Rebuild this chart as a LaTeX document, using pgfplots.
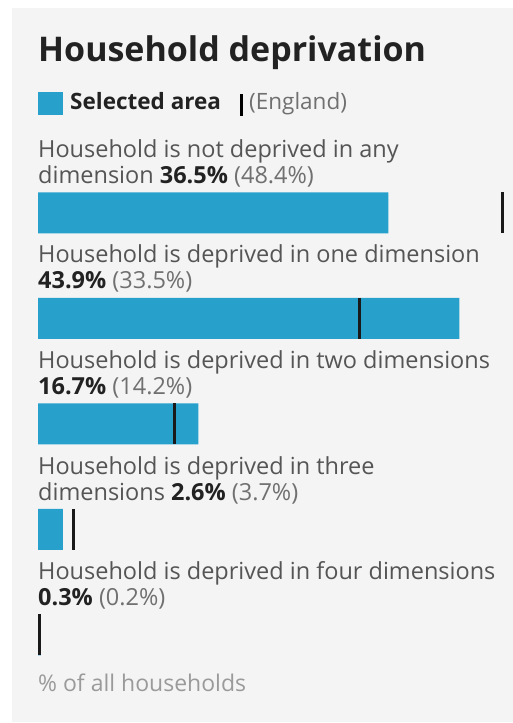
\documentclass[border=0pt]{standalone}
\usepackage{pgfplots}
\pgfplotsset{compat=1.18}
\usepackage{fontspec}
\setmainfont{Open Sans}
\definecolor{barblue}{HTML}{27A0CC}
\definecolor{panel}{HTML}{F4F4F5}
\definecolor{labgray}{HTML}{555555}
\definecolor{pargray}{HTML}{707070}
\definecolor{dark}{HTML}{222222}
\definecolor{light}{HTML}{9A9A9A}
\newcommand{\lab}[1]{\fontsize{23.5bp}{28bp}\selectfont\color{labgray}#1}
\newcommand{\val}[2]{{\color{dark}\bfseries #1} {\color{pargray}(#2)}}
\begin{document}
\begin{tikzpicture}[x=1bp,y=1bp]
\fill[white] (0,0) rectangle (513,723);
\fill[panel] (12,1) rectangle (513,715);
% title
\node[anchor=base west, inner sep=0, text=dark] at (38,661) {\fontsize{34bp}{40bp}\selectfont\bfseries Household deprivation};
% legend
\fill[barblue] (38,608) rectangle (63,631);
\node[anchor=base west, inner sep=0, text=dark] at (70,613) {\fontsize{22.5bp}{26bp}\selectfont\bfseries Selected area};
\draw[line width=3bp, black] (241,607) -- (241,629);
\node[anchor=base west, inner sep=0, text=pargray] at (249,613) {\fontsize{22.5bp}{26bp}\selectfont (England)};
\begin{axis}[
  at={(38bp,562.75bp)}, anchor=north west,
  scale only axis, width=470.4bp, height=527.5bp,
  xmin=0, xmax=49, ymin=-0.5, ymax=4.5, y dir=reverse,
  axis lines=none, xtick=\empty, ytick=\empty,
  clip=false,
]
\addplot[xbar, bar width=41bp, fill=barblue, draw=none] coordinates {
  (36.5,0) (43.9,1) (16.7,2) (2.6,3) (0.3,4)
};
\addplot[only marks, mark=|, mark size=20.5bp, mark options={line width=3bp, draw=black!90}] coordinates {
  (48.4,0) (33.5,1) (14.2,2) (3.7,3) (0.2,4)
};
\end{axis}
\tikzset{lb/.style={anchor=base west, inner sep=0}}
% bar 1
\node[lb] at (38,723-158) {\lab{Household is not deprived in any}};
\node[lb] at (38,723-184) {\lab{dimension \val{36.5\%}{48.4\%}}};
% bar 2
\node[lb] at (38,723-263) {\lab{Household is deprived in one dimension}};
\node[lb] at (38,723-289) {\lab{\val{43.9\%}{33.5\%}}};
% bar 3
\node[lb] at (38,723-369) {\lab{Household is deprived in two dimensions}};
\node[lb] at (38,723-395) {\lab{\val{16.7\%}{14.2\%}}};
% bar 4
\node[lb] at (38,723-475) {\lab{Household is deprived in three}};
\node[lb] at (38,723-501) {\lab{dimensions \val{2.6\%}{3.7\%}}};
% bar 5
\node[lb] at (38,723-580) {\lab{Household is deprived in four dimensions}};
\node[lb] at (38,723-606) {\lab{\val{0.3\%}{0.2\%}}};
% footer
\node[lb, text=light] at (38,723-692) {\fontsize{23bp}{27bp}\selectfont \% of all households};
\pgfresetboundingbox
\useasboundingbox (0,0) rectangle (513,723);
\end{tikzpicture}
\end{document}
